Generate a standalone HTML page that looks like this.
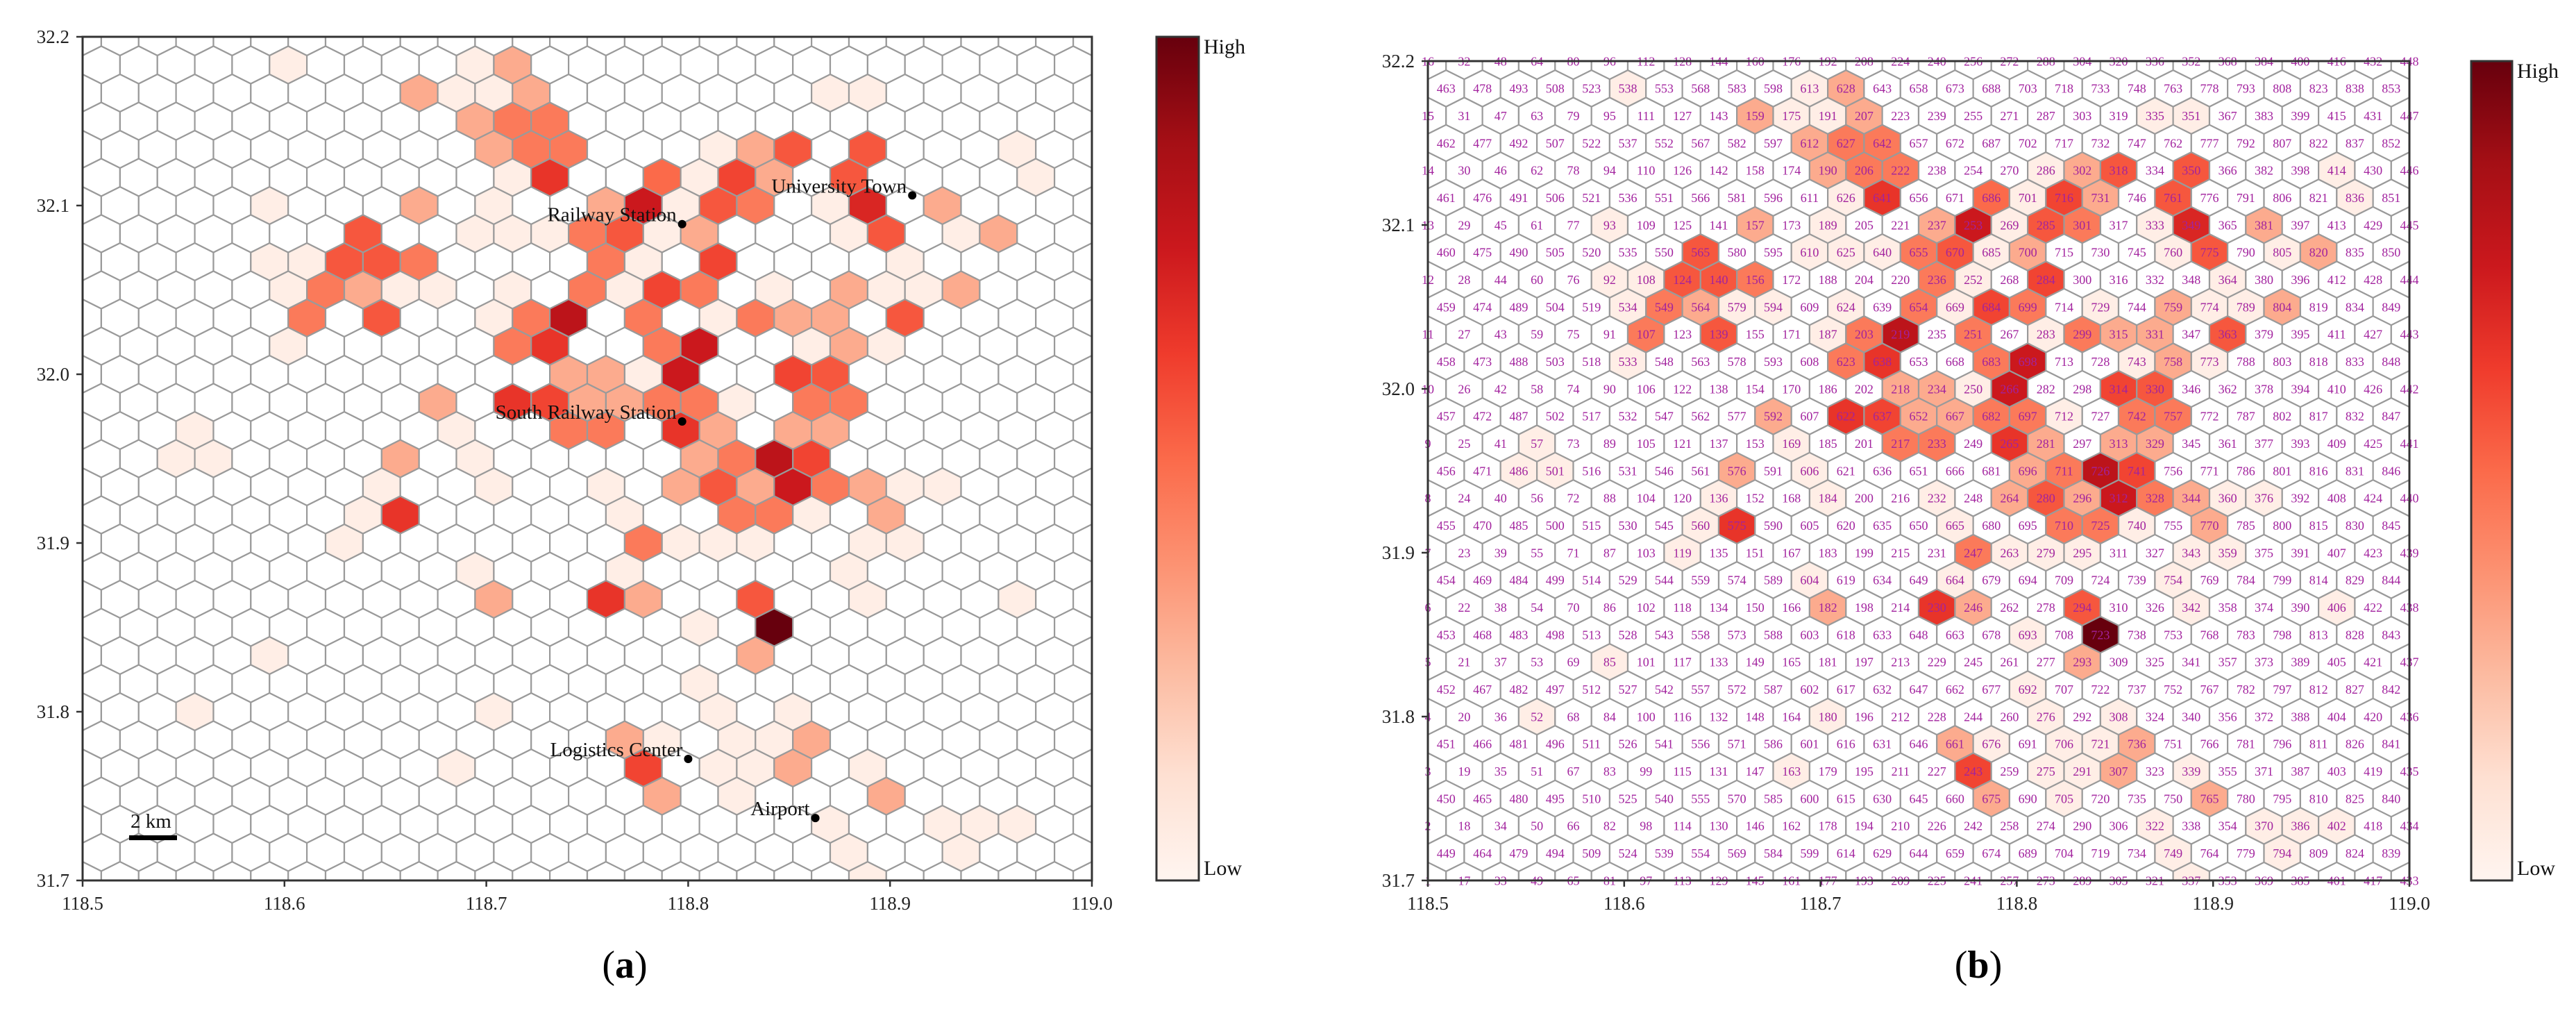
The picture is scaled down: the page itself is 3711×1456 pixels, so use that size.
<!DOCTYPE html>
<html><head><meta charset="utf-8">
<style>
html,body{margin:0;padding:0;background:#fff;}
svg{display:block;font-family:"Liberation Serif",serif;}
</style></head>
<body>
<svg id="fig" width="3711" height="1456" viewBox="0 0 3711 1456" xmlns="http://www.w3.org/2000/svg">
<defs>
<linearGradient id="reds" x1="0" y1="1" x2="0" y2="0">
<stop offset="0" stop-color="#fff5f0"/><stop offset="0.125" stop-color="#fee0d2"/><stop offset="0.25" stop-color="#fcbba1"/>
<stop offset="0.375" stop-color="#fc9272"/><stop offset="0.5" stop-color="#fb6a4a"/><stop offset="0.625" stop-color="#ef3b2c"/>
<stop offset="0.75" stop-color="#cb181d"/><stop offset="0.875" stop-color="#a50f15"/><stop offset="1" stop-color="#67000d"/>
</linearGradient>
<clipPath id="clipA"><rect x="119" y="53" width="1454" height="1215"/></clipPath>
<clipPath id="clipB"><rect x="2057" y="88" width="1414" height="1180"/></clipPath>
</defs>
</svg>
<script>
// ---- data ----
const cellIds = [538,613,628,159,175,191,207,612,627,642,190,206,222,626,641,93,157,189,237,610,625,640,655,565,92,108,124,140,156,236,534,549,564,579,594,624,654,107,139,187,203,219,533,623,638,218,234,592,622,637,652,169,217,233,576,606,
335,351,286,302,318,350,686,701,716,731,761,253,269,285,301,333,349,381,670,685,700,760,775,252,284,364,669,684,699,729,759,774,789,804,251,283,299,315,331,363,683,698,743,758,773,266,314,330,250,667,682,697,712,742,757,265,281,313,329,696,711,726,741,
136,184,232,560,575,119,604,182,230,85,180,163,661,664,665,
264,280,296,312,328,344,360,376,710,725,740,770,247,263,279,295,343,359,754,246,294,342,693,723,293,692,276,308,676,706,721,736,243,275,291,307,339,675,705,765,322,370,749,337,
414,836,805,820,406,386,402,794,57,486,501,52];
const cellValues = [0.04,0.04,0.3,0.3,0.04,0.04,0.3,0.3,0.45,0.45,0.3,0.45,0.45,0.04,0.65,0.04,0.3,0.04,0.3,0.04,0.04,0.04,0.45,0.55,0.04,0.04,0.55,0.55,0.45,0.45,0.04,0.45,0.3,0.04,0.04,0.04,0.45,0.45,0.55,0.04,0.45,0.8,0.04,0.45,0.65,0.3,0.3,0.3,0.65,0.6,0.3,0.04,0.45,0.45,0.3,0.04,
0.04,0.04,0.04,0.3,0.55,0.55,0.5,0.04,0.6,0.3,0.55,0.75,0.04,0.55,0.45,0.04,0.7,0.3,0.55,0.04,0.3,0.04,0.55,0.04,0.6,0.04,0.04,0.6,0.45,0.04,0.3,0.04,0.04,0.3,0.45,0.04,0.45,0.3,0.3,0.55,0.45,0.75,0.04,0.3,0.04,0.75,0.6,0.55,0.04,0.3,0.45,0.45,0.04,0.45,0.45,0.65,0.3,0.3,0.3,0.3,0.45,0.8,0.6,
0.04,0.04,0.04,0.04,0.65,0.04,0.04,0.3,0.65,0.04,0.04,0.04,0.3,0.04,0.04,
0.3,0.55,0.3,0.75,0.45,0.3,0.04,0.04,0.45,0.45,0.04,0.3,0.45,0.04,0.04,0.04,0.04,0.04,0.04,0.3,0.55,0.04,0.04,1.0,0.3,0.04,0.04,0.04,0.04,0.04,0.04,0.3,0.6,0.04,0.04,0.3,0.04,0.3,0.04,0.3,0.04,0.04,0.04,0.04,
0.04,0.04,0.04,0.3,0.04,0.04,0.04,0.04,0.04,0.04,0.04,0.04];
const xTicks = [118.5,118.6,118.7,118.8,118.9,119.0];
const xTickLabels = ["118.5","118.6","118.7","118.8","118.9","119.0"];
const yTicks = [32.2,32.1,32.0,31.9,31.8,31.7];
const yTickLabels = ["32.2","32.1","32.0","31.9","31.8","31.7"];
const placeNames = ["Railway Station","University Town","South Railway Station","Logistics Center","Airport"];
const placeLon = [118.797,118.911,118.797,118.800,118.863];
const placeLat = [32.089,32.106,31.972,31.772,31.737];

// ---- helpers ----
const NS="http://www.w3.org/2000/svg";
const svg=document.getElementById('fig');
function mk(tag,attrs,parent){const e=document.createElementNS(NS,tag);for(const k in attrs)e.setAttribute(k,attrs[k]);(parent||svg).appendChild(e);return e;}
const stops=[[255,245,240],[254,224,210],[252,187,161],[252,146,114],[251,106,74],[239,59,44],[203,24,29],[165,15,21],[103,0,13]];
function reds(v){v=Math.max(0,Math.min(1,v));const p=v*8,i=Math.min(7,Math.floor(p)),f=p-i;const a=stops[i],b=stops[i+1];return 'rgb('+a.map((c,k)=>Math.round(c+(b[k]-c)*f)).join(',')+')';}
const valueOf={};cellIds.forEach((id,i)=>{valueOf[id]=cellValues[i];});

function panel(P){
  const xs=lon=>P.l+(lon-118.5)/0.5*(P.r-P.l);
  const ys=lat=>P.t+(32.2-lat)/0.5*(P.b-P.t);
  const dx=(P.r-P.l)/27, dy=(P.b-P.t)/30, R=dy/1.5;
  const g=mk('g',{'clip-path':'url(#'+P.clip+')'});
  
  
  const labels=mk('g',{'font-size':P.lab,'fill':'#a2229e','text-anchor':'middle'});
  
  
  const cells=[];
  for(let c=0;c<28;c++)for(let r=0;r<16;r++)cells.push([1+c*16+r,P.l+c*dx,P.t+(15-r)*2*dy]);
  for(let c=0;c<27;c++)for(let r=0;r<15;r++)cells.push([449+c*15+r,P.l+(c+0.5)*dx,P.t+(15-r)*2*dy-dy]);
  cells.forEach(([id,cx,cy])=>{
    const pts=[[cx,cy-R],[cx+dx/2,cy-R/2],[cx+dx/2,cy+R/2],[cx,cy+R],[cx-dx/2,cy+R/2],[cx-dx/2,cy-R/2]].map(p=>p[0].toFixed(1)+','+p[1].toFixed(1)).join(' ');
    const v=valueOf[id];
    const h=mk('polygon',{points:pts,fill:v!==undefined?reds(v):'#ffffff',stroke:'#9a9a9a','stroke-width':2.2},g);
    
    
    if(P.labels){
      const t=mk('text',{x:cx.toFixed(1),y:(cy+P.lab*0.35).toFixed(1)},labels);
      t.textContent=id;
    }
  });
  if(!P.labels) labels.remove();
  // axes frame
  const fr=mk('rect',{x:P.l,y:P.t,width:P.r-P.l,height:P.b-P.t,fill:'none',stroke:'#333','stroke-width':3});
  
  
  xTicks.forEach((v,i)=>{
    const x=xs(v);
    mk('line',{x1:x,y1:P.b,x2:x,y2:P.b+9,stroke:'#333','stroke-width':2.5});
    const t=mk('text',{x:x,y:P.b+42,'font-size':27,'text-anchor':'middle',fill:'#222'});
    
    
    t.textContent=xTickLabels[i];
  });
  yTicks.forEach((v,i)=>{
    const y=ys(v);
    mk('line',{x1:P.l-9,y1:y,x2:P.l,y2:y,stroke:'#333','stroke-width':2.5});
    const t=mk('text',{x:P.l-19,y:y+9,'font-size':27,'text-anchor':'end',fill:'#222'});
    
    
    t.textContent=yTickLabels[i];
  });
  // colorbar
  const cb=mk('rect',{x:P.cbx,y:P.t,width:P.cbw,height:P.b-P.t,fill:'url(#reds)',stroke:'#333','stroke-width':3});
  
  
  const hi=mk('text',{x:P.cbx+P.cbw+7,y:P.t+24,'font-size':30,fill:'#111'});
  
  
  hi.textContent='High';
  const lo=mk('text',{x:P.cbx+P.cbw+7,y:P.b-8,'font-size':30,fill:'#111'});
  
  
  lo.textContent='Low';
  const cap=mk('text',{x:P.capx,y:1408,'font-size':56,'text-anchor':'middle',fill:'#000'});
  
  
  cap.innerHTML='(<tspan font-weight="bold">'+P.cap+'</tspan>)';
  if(P.annot){
    placeNames.forEach((n,i)=>{
      const x=xs(placeLon[i]),y=ys(placeLat[i]);
      const d=mk('circle',{cx:x,cy:y,r:6,fill:'#000'});
      
      
      const t=mk('text',{x:x-8,y:y-4,'font-size':29,'text-anchor':'end',fill:'#111'});
      
      
      t.textContent=n;
    });
    const bar=mk('rect',{x:186,y:1203,width:69,height:7,fill:'#000'});
    
    
    const st=mk('text',{x:188,y:1192,'font-size':29,fill:'#111'});
    
    
    st.textContent='2 km';
  }
}
panel({name:'panel-a',l:119,r:1573,t:53,b:1268,clip:'clipA',labels:false,lab:18,cbx:1666,cbw:61,capx:900,cap:'a',annot:true});
panel({name:'panel-b',l:2057,r:3471,t:88,b:1268,clip:'clipB',labels:true,lab:18,cbx:3560,cbw:59,capx:2850,cap:'b',annot:false});
</script>
</body></html>
